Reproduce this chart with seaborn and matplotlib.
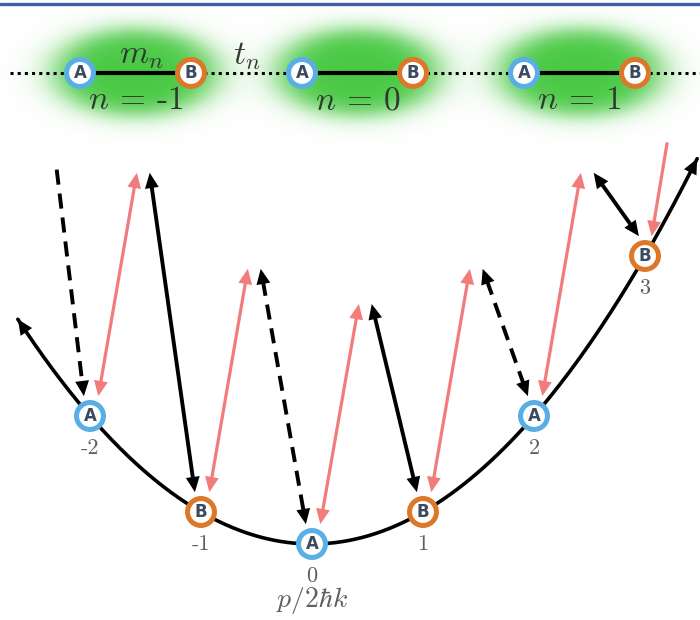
import numpy as np
import matplotlib
matplotlib.use("Agg")
import matplotlib.pyplot as plt
from matplotlib.patches import FancyArrowPatch
from matplotlib.lines import Line2D
import seaborn as sns

# lattice sites in momentum space (p / 2 hbar k) and their sublattice
site_index = [-2, -1, 0, 1, 2, 3]
site_label = ["A", "B", "A", "B", "A", "B"]
site_energy = [4, 1, 0, 1, 4, 9]
# virtual (intermediate) levels reached between neighbouring sites
peak_energy = [11.6, 8.6, 7.5, 8.6, 11.6]
# unit cells of the synthetic chain
cell_index = [-1, 0, 1]
cell_names = ["-1", "0", "1"]
# partial transitions entering from outside the drawn range
lead_in_start = (-2.3, 11.7)
lead_out_start = (3.2, 12.55)
curve_range = (-2.65, 3.47)

sns.set_theme(style="white")
plt.rcParams["mathtext.fontset"] = "cm"
plt.rcParams["font.family"] = ["cmr10", "DejaVu Sans"]
plt.rcParams["axes.unicode_minus"] = False

RED = "#f27b7b"
BLUE = "#5aaee6"
ORANGE = "#dc782a"
GREEN = np.array([0.29, 0.79, 0.27])
GREY = "#5f5f5f"
LETTER = "#3b4a5e"
CHAIN_TEXT = "#2f3b2f"

fig = plt.figure(figsize=(7, 6.2), dpi=100)
ax = fig.add_axes([0, 0, 1, 1])
XLIM = (-312 / 111, 388 / 111)
YLIM = (-76 / 32, 544 / 32)
ax.set_xlim(*XLIM)
ax.set_ylim(*YLIM)
ax.axis("off")

HEAD_L, HEAD_W = 11, 5.0
ring_colors = [BLUE if s == "A" else ORANGE for s in site_label]


def heads(p0, p1, color, start=True, end=True, z=3):
    style = ("<|-|>" if start and end else "-|>" if end else "<|-")
    ax.add_patch(FancyArrowPatch(p0, p1, arrowstyle=f"{style},head_length={HEAD_L},head_width={HEAD_W}",
                                 mutation_scale=1, lw=0, color=color, shrinkA=0, shrinkB=0, zorder=z))


def transition(p0, p1, color, lw, dashed=False, start=True, end=True, z=3):
    ls = (0, (3.9, 2.3)) if dashed else "-"
    ax.add_patch(FancyArrowPatch(p0, p1, arrowstyle="-", lw=lw, color=color, linestyle=ls,
                                 shrinkA=HEAD_L * 0.8 if start else 0,
                                 shrinkB=HEAD_L * 0.8 if end else 0, zorder=z, capstyle="butt"))
    heads(p0, p1, color, start, end, z)


# free-particle dispersion
p = np.linspace(*curve_range, 400)
sns.lineplot(x=p, y=p ** 2, color="black", lw=2.6, ax=ax, sort=False, zorder=2)
for tip_p, back in [(curve_range[0], 0.15), (curve_range[1], -0.12)]:
    heads((tip_p + back, (tip_p + back) ** 2), (tip_p, tip_p ** 2), "black", start=False)

# two-photon Bragg transitions between neighbouring momentum states
top_dx, tip_dy = 0.058, 0.62
for k in range(len(site_index) - 1):
    xl, el = site_index[k], site_energy[k]
    xr, er = site_index[k + 1], site_energy[k + 1]
    px = xl + 0.5 - 0.02
    pe = peak_energy[k]
    transition((xl + 0.075, el + tip_dy), (px - top_dx, pe), RED, 2.3)
    transition((px + top_dx, pe), (xr - 0.055, er + tip_dy), "black", 2.8,
               dashed=(site_label[k + 1] == "A"))
transition(lead_in_start, (site_index[0] - 0.055, site_energy[0] + tip_dy), "black", 2.8,
           dashed=True, start=False)
transition(lead_out_start, (site_index[-1] + 0.06, site_energy[-1] + tip_dy), RED, 2.3, start=False)

# momentum-state markers
sns.scatterplot(x=site_index, y=site_energy, s=376, color="white", edgecolor=ring_colors,
                linewidth=3.6, ax=ax, zorder=5, legend=False)
for x, e, lab in zip(site_index, site_energy, site_label):
    ax.text(x, e, lab, ha="center", va="center", fontsize=12, fontweight="bold",
            color=LETTER, family="DejaVu Sans", zorder=6)
    ax.annotate(str(x), (x, e), xytext=(0, -23), textcoords="offset points", ha="center",
                va="center", fontsize=16, color=GREY)
ax.text(0, -1.78, r"$p/2\hbar k$", ha="center", va="center", fontsize=20, color=GREY)

# synthetic lattice picture
chain_y = 14.72
chain_dx = -0.09
chain_x = [s + chain_dx for s in site_index]
ax.plot([(10 - 312) / 111, XLIM[1]], [chain_y, chain_y], color="black", lw=2.2,
        linestyle=(0, (1, 1.35)), dash_capstyle="butt", zorder=3)

a_semi, b_semi = 0.84, 1.55
for c in cell_index:
    cx = site_index[0] + 2 * (c + 1) + 0.5 + chain_dx
    ext = [cx - 1.5 * a_semi, cx + 1.5 * a_semi, chain_y - 1.5 * b_semi, chain_y + 1.5 * b_semi]
    gx, gy = np.meshgrid(np.linspace(-1.5, 1.5, 240), np.linspace(-1.5, 1.5, 240))
    r = np.hypot(gx, gy)
    alpha = 1.0 / (1.0 + np.exp((r - 0.86) / 0.12))
    img = np.zeros((240, 240, 4))
    img[..., :3] = GREEN
    img[..., 3] = alpha
    ax.imshow(img, extent=ext, origin="lower", aspect="auto", interpolation="bilinear", zorder=1)

for c, name in zip(cell_index, cell_names):
    xa = site_index[0] + 2 * (c + 1) + chain_dx
    xb = xa + 1
    ax.plot([xa, xb], [chain_y, chain_y], color="black", lw=3.0, solid_capstyle="butt", zorder=4)
    ax.annotate(f"$n$ = {name}", ((xa + xb) / 2, chain_y), xytext=(0, -20),
                textcoords="offset points", ha="center", va="center", fontsize=24, color=CHAIN_TEXT)
ax.annotate(r"$m_n$", (site_index[0] + 0.55 + chain_dx, chain_y), xytext=(0, 12),
            textcoords="offset points", ha="center", va="center", fontsize=24, color=CHAIN_TEXT)
ax.annotate(r"$t_n$", (site_index[1] + 0.5 + chain_dx, chain_y), xytext=(0, 12),
            textcoords="offset points", ha="center", va="center", fontsize=24, color=CHAIN_TEXT)

sns.scatterplot(x=chain_x, y=[chain_y] * len(chain_x), s=376, color="white", edgecolor=ring_colors,
                linewidth=3.6, ax=ax, zorder=5, legend=False)
for x, lab in zip(chain_x, site_label):
    ax.text(x, chain_y, lab, ha="center", va="center", fontsize=12, fontweight="bold",
            color=LETTER, family="DejaVu Sans", zorder=6)

ax.set_xlim(*XLIM)
ax.set_ylim(*YLIM)

fig.add_artist(Line2D([0, 1], [1 - 3.5 / 620] * 2, transform=fig.transFigure,
                      color="#3f5fa0", lw=2.4))

fig.savefig("out.png", dpi=100)
